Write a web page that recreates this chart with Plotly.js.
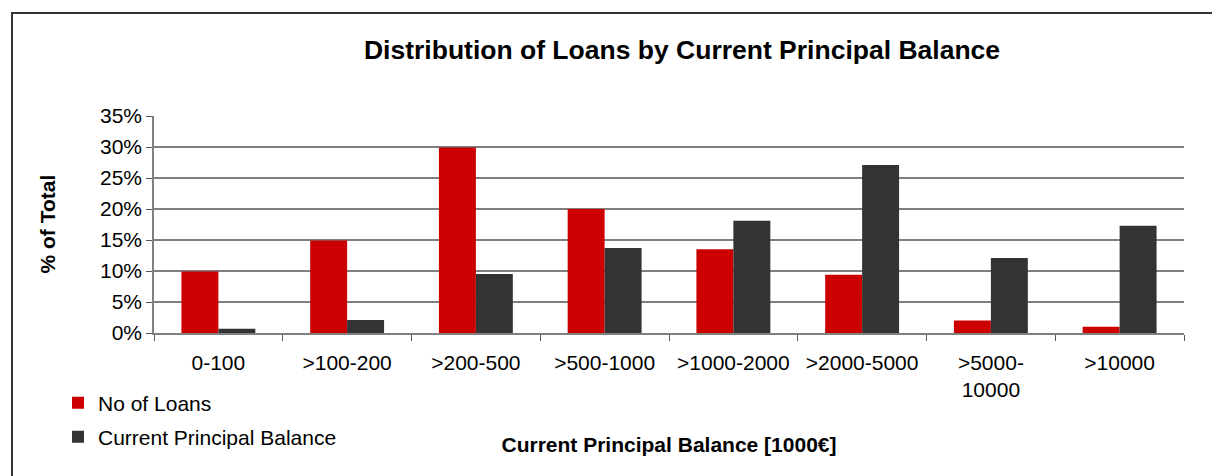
<!DOCTYPE html>
<html>
<head>
<meta charset="utf-8">
<script src="https://cdn.plot.ly/plotly-3.0.1.min.js"></script>
<style>
  html, body { margin: 0; padding: 0; background: #fff; }
  #wrap { position: relative; width: 1212px; height: 476px; overflow: hidden; }
  #chart { position: absolute; left: 0; top: 0; width: 1212px; height: 476px; }
  #frame { position: absolute; left: 11px; top: 12px; width: 1220px; height: 500px;
           border-left: 2px solid #333; border-top: 2px solid #333; pointer-events: none; }
</style>
</head>
<body>
<div id="wrap">
  <div id="chart"></div>
  <div id="frame"></div>
</div>
<script>
const categories = ['0-100', '>100-200', '>200-500', '>500-1000', '>1000-2000', '>2000-5000', '>5000-<br>10000', '>10000'];
const noOfLoans = [0.099, 0.149, 0.299, 0.200, 0.135, 0.094, 0.020, 0.010];
const principalBalance = [0.007, 0.021, 0.095, 0.137, 0.181, 0.271, 0.121, 0.173];
const seriesNames = ['No of Loans', 'Current Principal Balance'];
const yTickVals = [0, 0.05, 0.10, 0.15, 0.20, 0.25, 0.30, 0.35];

const FONT = '"Liberation Sans", Arial, sans-serif';
const FS = 21;
const PLOT_L = 154, PLOT_R = 1184;

const traces = [
  { type: 'bar', name: seriesNames[0], x: categories, y: noOfLoans,
    marker: { color: '#CC0000' }, legend: 'legend', hoverinfo: 'x+y' },
  { type: 'bar', name: seriesNames[1], x: categories, y: principalBalance,
    marker: { color: '#333333' }, legend: 'legend2', hoverinfo: 'x+y' }
];

const legendCommon = {
  font: { family: FONT, size: FS, color: '#000' },
  bgcolor: 'rgba(0,0,0,0)', borderwidth: 0,
  xref: 'container', yref: 'container', xanchor: 'left', yanchor: 'middle',
  itemclick: false, itemdoubleclick: false
};

const layout = {
  width: 1212, height: 476,
  paper_bgcolor: '#ffffff', plot_bgcolor: '#ffffff',
  font: { family: FONT, size: FS, color: '#000' },
  margin: { l: PLOT_L, r: 1212 - PLOT_R, t: 116, b: 143, pad: 0, autoexpand: false },
  title: {
    text: '<b>Distribution of Loans by Current Principal Balance</b>',
    font: { family: FONT, size: 26.5, color: '#000' },
    xref: 'container', yref: 'container',
    x: 682 / 1212, xanchor: 'center',
    y: 1 - 50 / 476, yanchor: 'middle'
  },
  barmode: 'group', bargap: 0.426, bargroupgap: 0,
  xaxis: {
    type: 'category',
    tickson: 'boundaries',
    tickangle: 0,
    ticks: 'outside', ticklen: 6, tickcolor: '#555', tickwidth: 1,
    showline: true, linecolor: '#808080', linewidth: 1.5,
    showgrid: false, zeroline: false,
    ticklabelstandoff: 10,
    tickfont: { family: FONT, size: FS, color: '#000' },
    title: { text: '<b>Current Principal Balance [1000€]</b>',
             font: { family: FONT, size: FS, color: '#000' }, standoff: 37 },
    automargin: true, fixedrange: true
  },
  yaxis: {
    range: [0, 0.35],
    tickvals: yTickVals, tickformat: '.0%', ticksuffix: '\u00a0',
    ticks: 'outside', ticklen: 6, tickcolor: '#555', tickwidth: 1,
    showline: true, linecolor: '#808080', linewidth: 1.5,
    showgrid: true, gridcolor: '#7f7f7f', gridwidth: 1.6,
    zeroline: false,
    tickfont: { family: FONT, size: FS, color: '#000' },
    automargin: false, fixedrange: true
  },
  annotations: [{
    text: '<b>% of Total</b>',
    xref: 'paper', yref: 'paper',
    x: (47 - PLOT_L) / (PLOT_R - PLOT_L), y: 0.5,
    xanchor: 'center', yanchor: 'middle',
    textangle: -90, showarrow: false,
    font: { family: FONT, size: FS, color: '#000' }
  }],
  showlegend: true,
  legend: Object.assign({}, legendCommon, { x: 58 / 1212, y: 1 - 403 / 476 }),
  legend2: Object.assign({}, legendCommon, { x: 58 / 1212, y: 1 - 437 / 476 })
};

Plotly.newPlot('chart', traces, layout, { displayModeBar: false });
</script>
</body>
</html>
